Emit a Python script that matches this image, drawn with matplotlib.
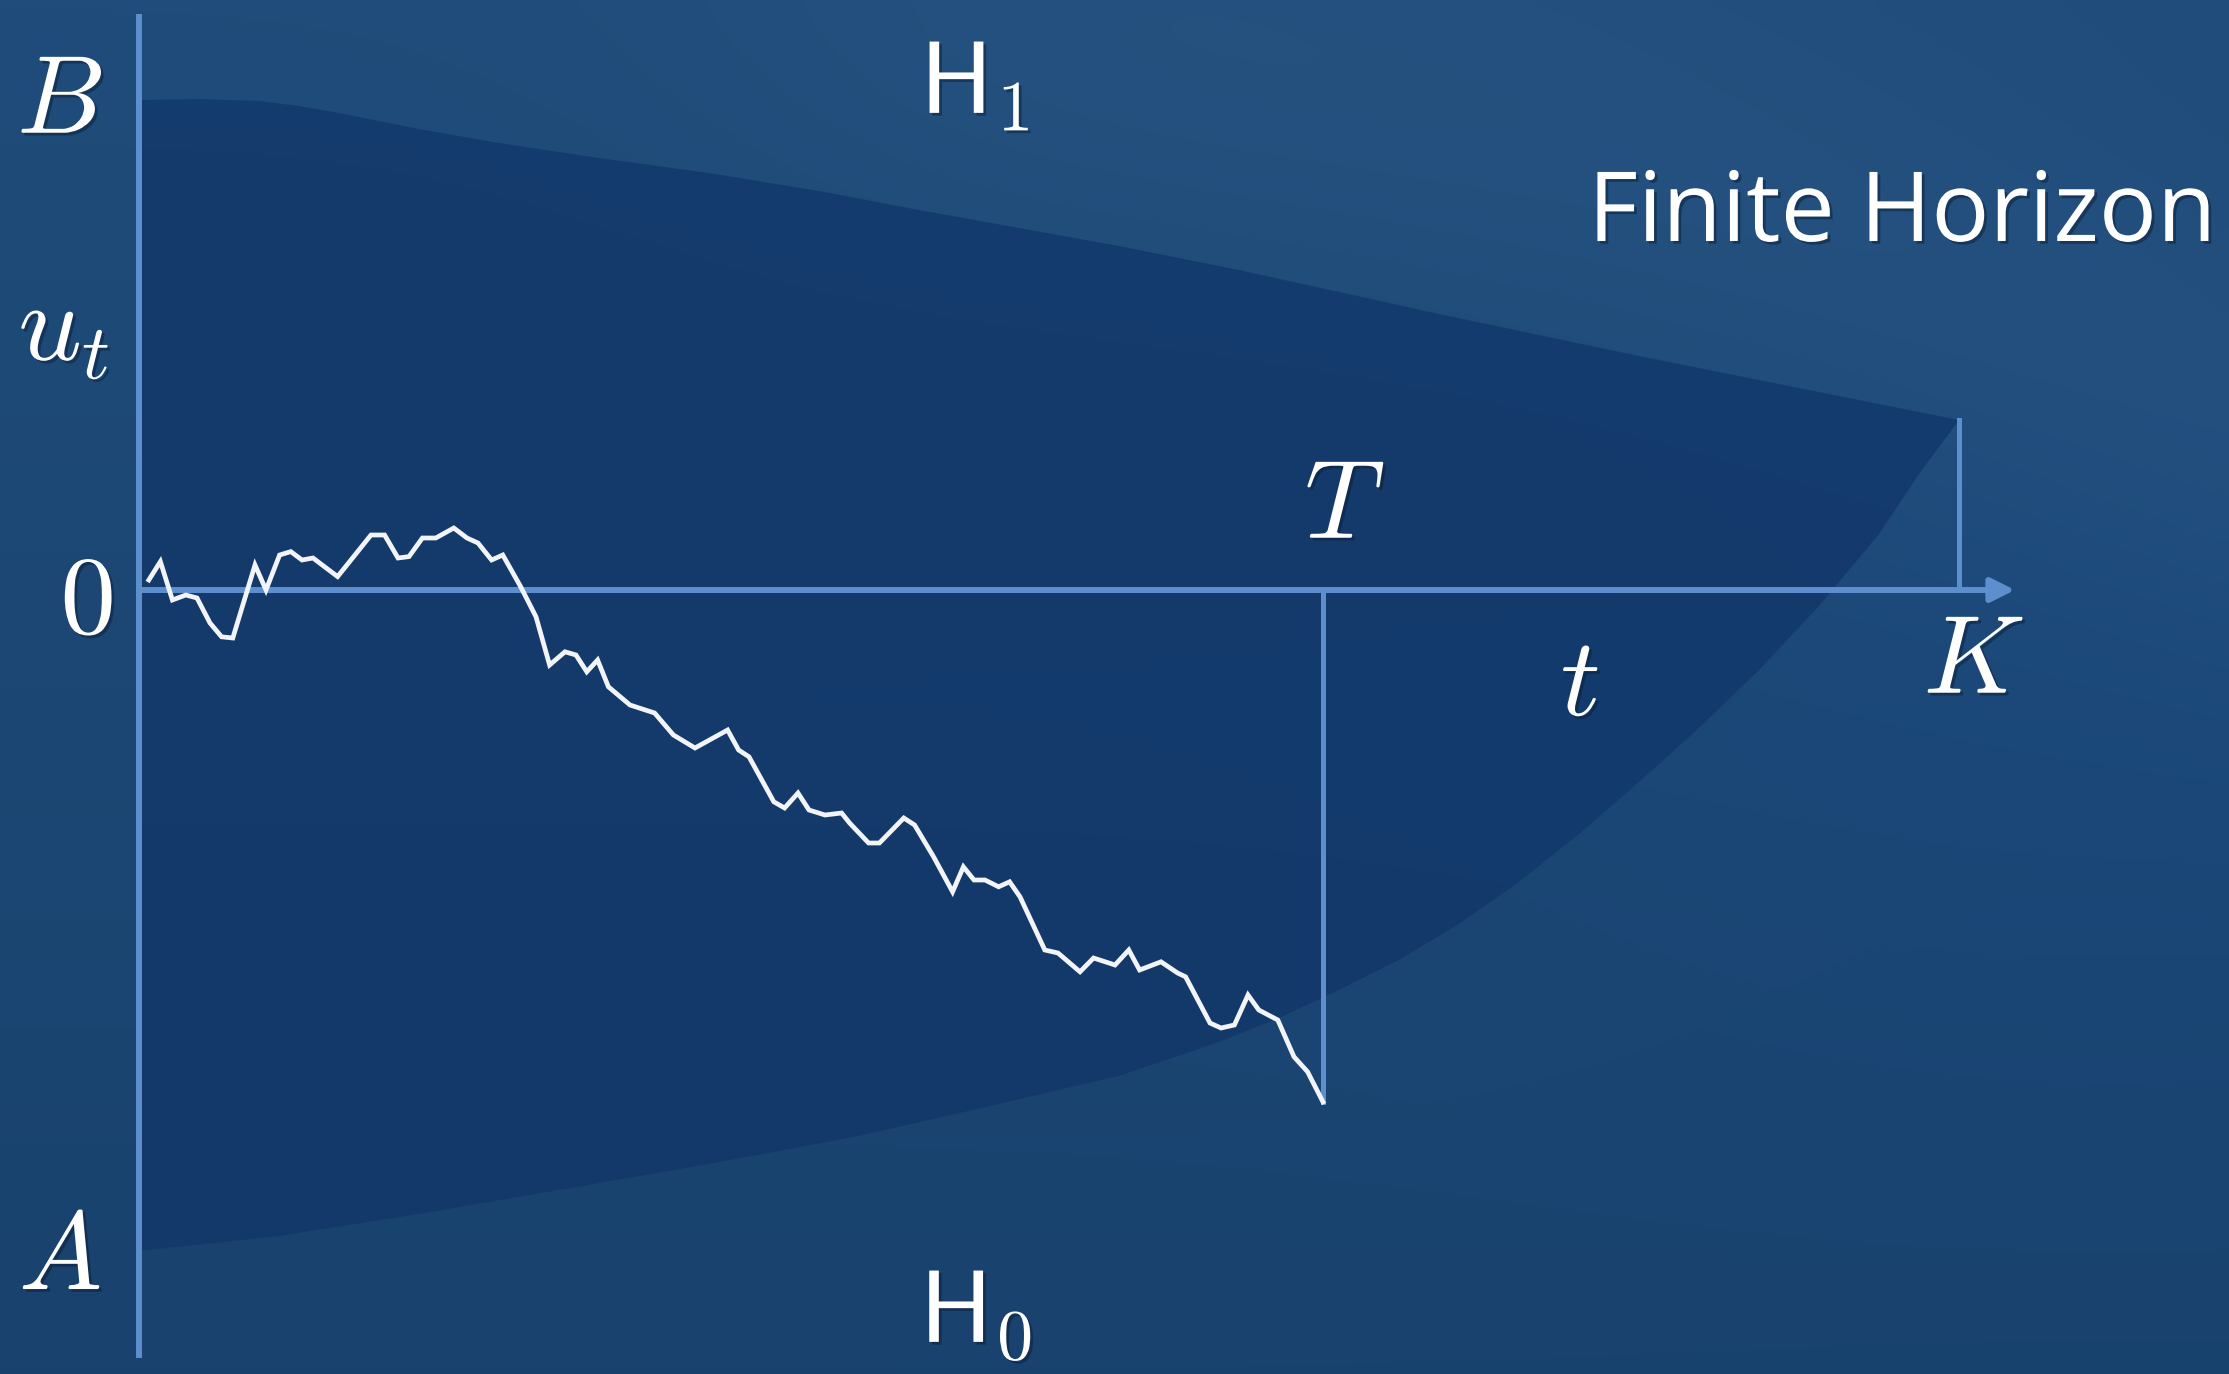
# Finite horizon sequential test: a random walk u_t between two
# decision boundaries (B above, A below) that meet at the horizon K.

import matplotlib.pyplot as plt
import matplotlib.patheffects as pe
import numpy as np

# Styles:
axisColour = '#5d8fcf'
walkColour = '#f2f4f7'
regionColour = '#12376a'
textColour = 'white'
mathSize = 80
hypSize = 74

plt.rcParams['mathtext.fontset'] = 'cm'

# Data (time t, statistic u_t):
walk_t = [0.49, 1.07, 1.67, 2.34, 2.90, 3.55, 4.13, 4.69, 5.80, 6.35, 7.03, 7.59,
          8.15, 8.70, 9.93, 11.60, 12.28, 12.95, 13.50, 14.17, 14.84, 15.74, 16.40,
          16.95, 17.63, 18.19, 19.08, 19.85, 20.53, 21.30, 21.85, 22.39, 22.93,
          23.47, 24.55, 25.78, 26.72, 27.80, 29.43, 29.98, 30.50, 31.74, 32.28,
          32.95, 33.50, 34.30, 35.13, 35.53, 36.48, 37.02, 38.24, 38.78, 39.73,
          40.68, 41.22, 41.75, 42.30, 42.98, 43.53, 44.05, 45.29, 45.95, 47.05,
          47.73, 48.80, 49.49, 50.03, 51.10, 51.93, 52.33, 53.55, 54.10, 54.77,
          55.45, 55.99, 56.94, 57.75, 58.43, 59.20]
walk_u = [0.50, 1.42, -0.50, -0.25, -0.40, -1.65, -2.34, -2.40, 1.25, 0.00, 1.75, 1.92,
          1.50, 1.60, 0.67, 2.75, 2.75, 1.60, 1.67, 2.60, 2.60, 3.10, 2.60,
          2.35, 1.50, 1.75, 0.17, -1.34, -3.75, -3.09, -3.25, -4.09, -3.50,
          -4.84, -5.75, -6.15, -7.25, -7.90, -7.00, -8.00, -8.34, -10.59, -10.90,
          -10.15, -11.00, -11.25, -11.15, -11.65, -12.65, -12.65, -11.40, -11.75, -13.34,
          -15.09, -13.84, -14.50, -14.50, -14.84, -14.59, -15.34, -18.00, -18.15, -19.09,
          -18.40, -18.75, -18.00, -19.00, -18.59, -19.15, -19.34, -21.65, -21.90, -21.75,
          -20.25, -21.00, -21.50, -23.34, -24.09, -25.60]

upper_t = [0, 3, 6, 8, 10, 12, 14, 18, 23, 28.5, 34, 39, 44, 49, 55, 60, 65, 70,
           75, 80, 85, 91]
upper_u = [24.5, 24.55, 24.45, 24.2, 23.85, 23.45, 23.05, 22.35, 21.6, 20.85, 19.95,
           19.0, 18.1, 17.2, 16.0, 14.9, 13.8, 12.75, 11.7, 10.7, 9.7, 8.5]

lower_t = [0, 7, 14, 21, 28.5, 36, 43, 49, 54, 57, 60, 63, 66, 69, 72, 75, 78, 81,
           84, 87, 89, 91]
lower_u = [-33.05, -32.3, -31.2, -30.0, -28.7, -27.3, -25.7, -24.3, -22.6, -21.4,
           -20.0, -18.5, -16.7, -14.6, -12.2, -9.6, -6.9, -4.0, -0.8, 2.8, 5.8, 8.5]

B = upper_u[0]
A = lower_u[0]
K = 91
T = walk_t[-1]

fig = plt.figure(figsize=(22.29, 13.74), dpi=100)
ax = fig.add_axes([0, 0, 1, 1])
ax.set_xlim(-6.95, 104.5)
ax.set_ylim(-39.2, 29.5)
ax.axis('off')

# Background: slide-style blue gradient with a soft lighter sweep
ny, nx = 140, 230
Y, X = np.mgrid[0:1:ny*1j, 0:1:nx*1j]
top = np.array([31, 76, 122]) / 255
bottom = np.array([25, 66, 110]) / 255
bg = top[None, None, :] * (1 - Y[..., None]) + bottom[None, None, :] * Y[..., None]
fade = 1 / (1 + np.exp(-(X - 0.35) / 0.06))
sweep = np.exp(-((Y - 0.55 * (X - 0.3) ** 2 - 0.02) / 0.18) ** 2) * fade
bg += 0.022 * sweep[..., None]
rightGlow = np.exp(-((X - 0.95) ** 2 + (Y - 0.55) ** 2) / 0.08)
bg += np.array([-0.005, 0.005, 0.02]) * rightGlow[..., None]
ax.imshow(np.clip(bg, 0, 1), extent=(-6.95, 104.5, -39.2, 29.5), aspect='auto',
          interpolation='bilinear', zorder=0)

# Continuation region between the boundaries
poly_t = upper_t + lower_t[::-1]
poly_u = upper_u + lower_u[::-1]
ax.fill(poly_t, poly_u, color=regionColour, alpha=0.8, lw=0, zorder=1)

# Axes, horizon and stopping time
ax.plot([0, 0], [28.8, -38.4], color=axisColour, lw=4.3, zorder=2, solid_capstyle='butt')
ax.annotate('', xy=(93.8, 0), xytext=(0, 0),
            arrowprops=dict(arrowstyle='-|>,head_length=0.9,head_width=0.45',
                            color=axisColour, lw=4.3, shrinkA=0, shrinkB=0,
                            mutation_scale=16), zorder=2)
ax.plot([K, K], [0, upper_u[-1]], color=axisColour, lw=3.6, zorder=2)
ax.plot([T, T], [0, walk_u[-1]], color=axisColour, lw=3.6, zorder=2)

# Random walk
ax.plot(walk_t, walk_u, color=walkColour, lw=3.4, zorder=3, solid_joinstyle='miter')

# Labels
shadow = [pe.withSimplePatchShadow(offset=(2, -2), shadow_rgbFace='#0a1a30', alpha=0.45)]
labels = [(-3.95, 24.35, r'$B$'), (-3.75, 13.0, r'$u_t$'), (-2.6, -0.65, r'$0$'),
          (-3.95, -33.45, r'$A$'), (60.3, 4.1, r'$T$'), (72.05, -4.75, r'$t$'),
          (91.75, -3.65, r'$K$')]
for x, y, s in labels:
    ax.text(x, y, s, fontsize=mathSize, color=textColour, ha='center', va='center',
            zorder=4, path_effects=shadow)

ax.text(41.8, 25.25, r'$\mathsf{H}_1$', fontsize=hypSize, color=textColour,
        ha='center', va='center', zorder=4, path_effects=shadow)
ax.text(41.85, -36.2, r'$\mathsf{H}_0$', fontsize=hypSize, color=textColour,
        ha='center', va='center', zorder=4, path_effects=shadow)

title = ax.text(103.85, 17.45, 'Finite Horizon', fontsize=80, fontname='Open Sans',
                color=textColour, ha='right', va='baseline', zorder=4, path_effects=shadow)
fig.canvas.draw()
w = title.get_window_extent().width
title.set_fontsize(80 * 628 / w)

plt.savefig('out.png', dpi=100)
